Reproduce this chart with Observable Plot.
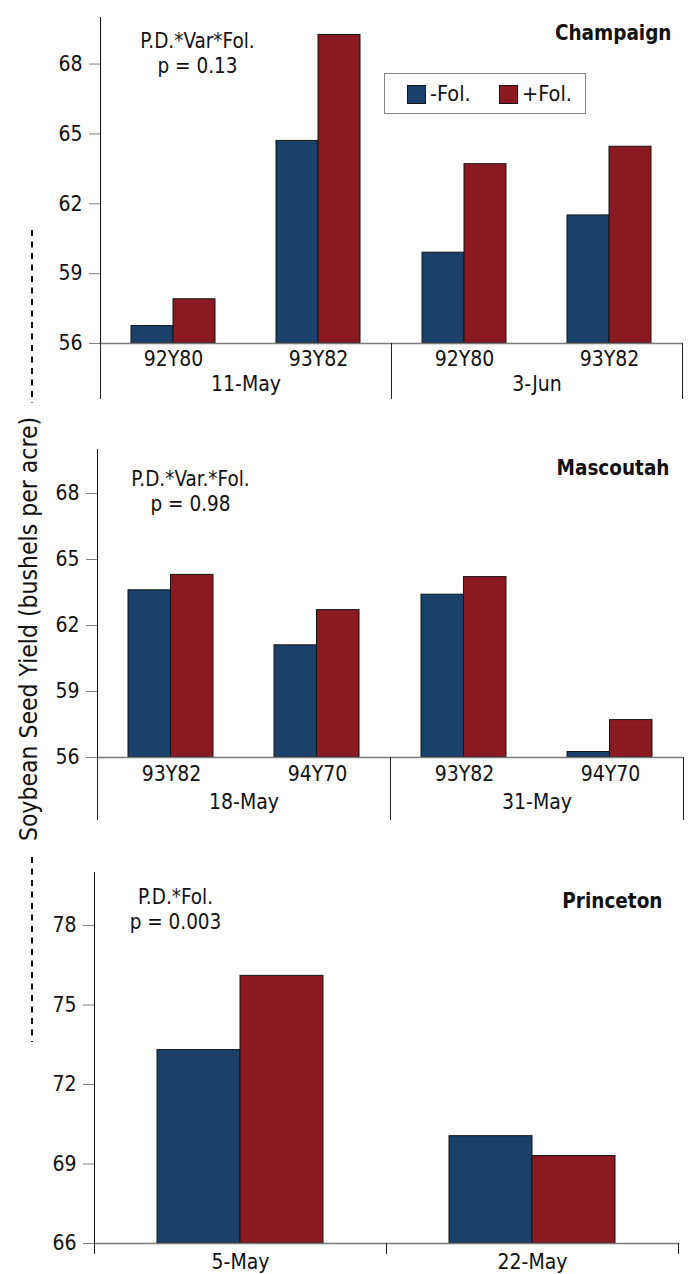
<!DOCTYPE html>
<html>
<head>
<meta charset="utf-8">
<script src="https://cdn.jsdelivr.net/npm/d3@7"></script>
<script src="https://cdn.jsdelivr.net/npm/@observablehq/plot@0.6"></script>
<style>
  body { margin: 0; background: #fff; }
  #chart { position: relative; width: 688px; height: 1274px; overflow: hidden;
    font-family: "DejaVu Sans Condensed", "DejaVu Sans", sans-serif; font-stretch: condensed; color: #111; }
  #chart > * { position: absolute; }
</style>
</head>
<body>
<div id="chart"></div>
<script>
// ---------------- data ----------------
const treatments = ["-Fol.", "+Fol."];
const treatmentColors = ["#1a4169", "#8b1921"];
const yAxisTitle = "Soybean Seed Yield (bushels per acre)";

const champaignTitle = "Champaign";
const champaignDates = ["11-May", "11-May", "3-Jun", "3-Jun"];
const champaignVarieties = ["92Y80", "93Y82", "92Y80", "93Y82"];
const champaignNoFol = [56.75, 64.7, 59.9, 61.5];
const champaignFol = [57.9, 69.25, 63.7, 64.45];
const champaignTicks = [56, 59, 62, 65, 68];
const champaignDomain = [56, 70];
const champaignNote = ["P.D.*Var*Fol.", "p = 0.13"];

const mascoutahTitle = "Mascoutah";
const mascoutahDates = ["18-May", "18-May", "31-May", "31-May"];
const mascoutahVarieties = ["93Y82", "94Y70", "93Y82", "94Y70"];
const mascoutahNoFol = [63.6, 61.1, 63.4, 56.25];
const mascoutahFol = [64.3, 62.7, 64.2, 57.7];
const mascoutahTicks = [56, 59, 62, 65, 68];
const mascoutahDomain = [56, 70];
const mascoutahNote = ["P.D.*Var.*Fol.", "p = 0.98"];

const princetonTitle = "Princeton";
const princetonDates = ["5-May", "22-May"];
const princetonVarieties = ["", ""];
const princetonNoFol = [73.3, 70.05];
const princetonFol = [76.1, 69.3];
const princetonTicks = [66, 69, 72, 75, 78];
const princetonDomain = [66, 80];
const princetonNote = ["P.D.*Fol.", "p = 0.003"];

// ---------------- layout (pixels) ----------------
const W = 688;
const FONT = '"DejaVu Sans Condensed", "DejaVu Sans", sans-serif';
const panels = [
  { title: champaignTitle, dates: champaignDates, varieties: champaignVarieties, noFol: champaignNoFol, fol: champaignFol,
    ticks: champaignTicks, domain: champaignDomain, note: champaignNote,
    L: { top: 0, axisTop: 17, baseline: 343, left: 100, right: 682, pad: 0.42, stripH: 55, stripExtra: 0,
         varDy: 16, dateDy: 41, titleDx: -11, titleDy: 8, noteDx: 97, noteDy: 13 } },
  { title: mascoutahTitle, dates: mascoutahDates, varieties: mascoutahVarieties, noFol: mascoutahNoFol, fol: mascoutahFol,
    ticks: mascoutahTicks, domain: mascoutahDomain, note: mascoutahNote,
    L: { top: 430, axisTop: 449, baseline: 757, left: 97, right: 683, pad: 0.42, stripH: 62, stripExtra: 0,
         varDy: 17, dateDy: 45, titleDx: -14, titleDy: 11, noteDx: 93, noteDy: 19 } },
  { title: princetonTitle, dates: princetonDates, varieties: princetonVarieties, noFol: princetonNoFol, fol: princetonFol,
    ticks: princetonTicks, domain: princetonDomain, note: princetonNote,
    L: { top: 855, axisTop: 872, baseline: 1243, left: 94, right: 678, pad: 0.43, stripH: 10, stripExtra: 21,
         varDy: 0, dateDy: 19, titleDx: -16, titleDy: 21, noteDx: 81, noteDy: 14 } }
];

const chart = document.getElementById("chart");

function rowsOf(p) {
  const rows = [];
  p.dates.forEach((d, i) => {
    rows.push({ date: d, variety: p.varieties[i], treatment: treatments[0], value: p.noFol[i] });
    rows.push({ date: d, variety: p.varieties[i], treatment: treatments[1], value: p.fol[i] });
  });
  return rows;
}

function upperPlot(p, inset) {
  const L = p.L;
  const rows = rowsOf(p);
  const dates = [...new Set(p.dates)];
  const vars = [...new Set(p.varieties)];
  return Plot.plot({
    width: W,
    height: L.baseline - L.top + 1,
    marginTop: L.axisTop - L.top,
    marginBottom: 1,
    marginLeft: L.left,
    marginRight: W - L.right,
    style: { fontFamily: FONT, fontSize: "21px", color: "#111", background: "transparent", overflow: "visible" },
    fx: { domain: dates, padding: 0, axis: null },
    x: { domain: vars, paddingInner: L.pad, paddingOuter: L.pad / 2, axis: null },
    y: { domain: p.domain, axis: null },
    color: { domain: treatments, range: treatmentColors },
    marks: [
      Plot.barY(rows.filter(r => r.treatment === treatments[0]), {
        fx: "date", x: "variety", y1: p.domain[0], y2: "value", fill: "treatment",
        stroke: "#151515", strokeWidth: 1, insetRight: inset }),
      Plot.barY(rows.filter(r => r.treatment === treatments[1]), {
        fx: "date", x: "variety", y1: p.domain[0], y2: "value", fill: "treatment",
        stroke: "#151515", strokeWidth: 1, insetLeft: inset }),
      Plot.ruleY([p.domain[0]], { stroke: "#7a7a7a", strokeWidth: 1.5 }),
      Plot.axisY({ ticks: p.ticks, tickSize: 11, tickPadding: 7, stroke: "#808080", fontSize: 21, label: null }),
      Plot.frame({ anchor: "left", facetAnchor: "left", stroke: "#111" }),
      Plot.text([p.title], { fx: () => dates[dates.length - 1], text: d => d, frameAnchor: "top-right",
        textAnchor: "end", lineAnchor: "top", dx: L.titleDx, dy: L.titleDy, fontWeight: "bold", fontSize: 20.5 }),
      Plot.text([p.note.join("\n")], { fx: () => dates[0], text: d => d, frameAnchor: "top-left",
        textAnchor: "middle", lineAnchor: "top", dx: L.noteDx, dy: L.noteDy, fontSize: 20.5, lineHeight: 1.22 })
    ]
  });
}

function stripPlot(p) {
  const L = p.L;
  const dates = [...new Set(p.dates)];
  const vars = [...new Set(p.varieties)];
  const varRows = p.dates.map((d, i) => ({ date: d, variety: p.varieties[i] })).filter(r => r.variety !== "");
  return Plot.plot({
    width: W,
    height: L.stripH + L.stripExtra,
    marginTop: 0,
    marginBottom: L.stripExtra,
    marginLeft: L.left,
    marginRight: W - L.right,
    style: { fontFamily: FONT, fontSize: "21px", color: "#111", background: "transparent", overflow: "visible" },
    fx: { domain: dates, padding: 0, axis: null },
    x: { domain: vars, paddingInner: L.pad, paddingOuter: L.pad / 2, axis: null },
    marks: [
      Plot.frame({ anchor: "left", stroke: "#222" }),
      Plot.frame({ anchor: "right", stroke: "#222" }),
      Plot.text(varRows, { fx: "date", x: "variety", text: "variety", frameAnchor: "top", lineAnchor: "middle", dy: L.varDy }),
      Plot.text(dates, { fx: d => d, text: d => d, frameAnchor: "top", lineAnchor: "middle", dy: L.dateDy })
    ]
  });
}

for (const p of panels) {
  const trial = upperPlot(p, 0);
  const bw = trial.scale("x").bandwidth;
  const up = upperPlot(p, bw / 2);
  up.style.position = "absolute";
  up.style.left = "0px";
  up.style.top = p.L.top + "px";
  chart.appendChild(up);
  const st = stripPlot(p);
  st.style.position = "absolute";
  st.style.left = "0px";
  st.style.top = p.L.baseline + "px";
  chart.appendChild(st);
}

// ---------------- legend ----------------
const legend = d3.select(chart).append("div")
  .style("left", "384px").style("top", "73px").style("width", "200px").style("height", "39px")
  .style("border", "1.5px solid #858585").style("background", "#fff")
  .style("font-family", FONT).style("font-size", "21.5px");
const legendX = [22, 114];
treatments.forEach((t, i) => {
  const item = legend.append("div").style("position", "absolute").style("left", legendX[i] + "px").style("top", "10px")
    .style("display", "flex").style("align-items", "center").style("height", "20px");
  item.append("div").style("width", "19px").style("height", "19px").style("background", treatmentColors[i])
    .style("border", "1px solid #151515").style("box-sizing", "border-box");
  item.append("span").style("margin-left", "4px").style("line-height", "20px").text(t);
});

// ---------------- shared y-axis title ----------------
const ty = d3.select(chart).append("svg").attr("width", 70).attr("height", 1274)
  .style("left", "0px").style("top", "0px");
const cx = 32, cy = 629, half = 216;
ty.append("line").attr("x1", cx).attr("x2", cx).attr("y1", 230).attr("y2", cy - half - 10)
  .attr("stroke", "#111").attr("stroke-width", 2).attr("stroke-dasharray", "6,5.5");
ty.append("line").attr("x1", cx).attr("x2", cx).attr("y1", cy + half + 12).attr("y2", 1042)
  .attr("stroke", "#111").attr("stroke-width", 2).attr("stroke-dasharray", "6,5.5");
ty.append("text").attr("transform", `translate(37,${cy}) rotate(-90)`).attr("text-anchor", "middle")
  .attr("font-family", FONT).attr("font-size", 24.5).attr("fill", "#111").text(yAxisTitle);
</script>
</body>
</html>
